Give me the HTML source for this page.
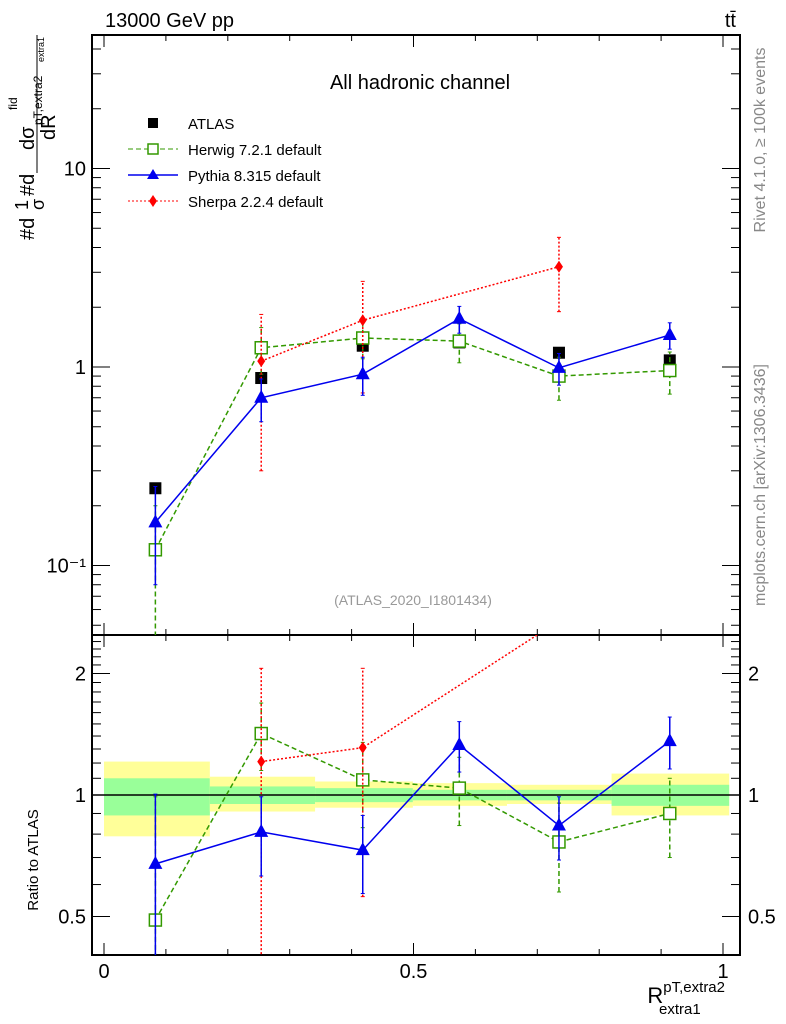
<!DOCTYPE html>
<html><head><meta charset="utf-8"><style>
body{margin:0;background:#fff;overflow:hidden;}
svg{display:block;font-family:"Liberation Sans",sans-serif;}
</style></head><body>
<svg id="c" width="786" height="1024" viewBox="0 0 786 1024">
<text x="105" y="27" font-size="20">13000 GeV pp</text>
<text x="736" y="27" font-size="20" text-anchor="end">tt̄</text>
<text x="420" y="89" font-size="20" text-anchor="middle">All hadronic channel</text>
<text transform="translate(765,140) rotate(-90)" font-size="16" fill="#888" text-anchor="middle">Rivet 4.1.0, ≥ 100k events</text>
<text transform="translate(765,485) rotate(-90)" font-size="16" fill="#888" text-anchor="middle">mcplots.cern.ch [arXiv:1306.3436]</text>
<text x="413" y="605" font-size="14" fill="#999" text-anchor="middle">(ATLAS_2020_I1801434)</text>
<g font-size="20">
<text transform="translate(34,240) rotate(-90)">#d</text>
<text transform="translate(28,210) rotate(-90)" font-size="18">1</text>
<text transform="translate(44,210) rotate(-90)" font-size="18">σ</text>
<text transform="translate(34,196) rotate(-90)">#d</text>
<line x1="37" y1="173" x2="37" y2="35" stroke="#000" stroke-width="1"/>
<text transform="translate(34,150) rotate(-90)">dσ</text>
<text transform="translate(17,110) rotate(-90)" font-size="12">fid</text>
<text transform="translate(42,125) rotate(-90)" font-size="12">pT,extra2</text>
<text transform="translate(55,140) rotate(-90)">dR</text>
<text transform="translate(44,62) rotate(-90)" font-size="9">extra1</text>
</g>
<text transform="translate(38,860) rotate(-90)" font-size="15" text-anchor="middle">Ratio to ATLAS</text>
<text x="725" y="1003" font-size="22" text-anchor="end">R<tspan font-size="15" dy="-11">pT,extra2</tspan><tspan font-size="15" dx="-66" dy="22">extra1</tspan></text>
<g id="g"></g>
<g font-size="15">
<rect x="148" y="118" width="10" height="10" fill="#000"/>
<text x="188" y="129">ATLAS</text>
<line x1="128" y1="149" x2="178" y2="149" stroke="#339900" stroke-dasharray="5,3"/>
<rect x="148" y="144" width="10" height="10" fill="#fff" stroke="#339900" stroke-width="1.5"/>
<text x="188" y="155">Herwig 7.2.1 default</text>
<line x1="128" y1="175" x2="178" y2="175" stroke="#0000ee" stroke-width="1.5"/>
<polygon points="153,169 159,179 147,179" fill="#0000ee"/>
<text x="188" y="181">Pythia 8.315 default</text>
<line x1="128" y1="201" x2="178" y2="201" stroke="#ff0000" stroke-dasharray="2,2"/>
<polygon points="153,195 157,201 153,207 149,201" fill="#ff0000"/>
<text x="188" y="207">Sherpa 2.2.4 default</text>
</g>
</svg>
<script>
const xs=[0.083,0.254,0.418,0.574,0.735,0.914];
const binEdges=[0,0.171,0.341,0.499,0.651,0.820,1.01];
const atlas=[0.245,0.88,1.28,1.33,1.18,1.08];
const herwig=[0.12,1.25,1.40,1.35,0.90,0.96];
const herwigErr=[0.08,0.33,0.3,0.3,0.22,0.23];
const pythia=[0.165,0.70,0.92,1.75,0.99,1.45];
const pythiaErr=[0.085,0.17,0.2,0.27,0.18,0.22];
const sherpaX=[0.254,0.418,0.735];
const sherpa=[1.07,1.72,3.2];
const sherpaErr=[0.77,0.98,1.3];
const rHerwig=[0.49,1.42,1.09,1.04,0.765,0.9];
const rHerwigErr=[0.5,0.27,0.26,0.2,0.19,0.2];
const rPythia=[0.675,0.81,0.73,1.33,0.84,1.36];
const rPythiaErr=[0.33,0.18,0.16,0.19,0.15,0.2];
const rSherpa=[1.21,1.31,2.7];
const rSherpaErr=[0.85,0.75,0.1];
const greenLo=[0.89,0.95,0.96,0.97,0.97,0.94];
const greenHi=[1.10,1.05,1.04,1.03,1.03,1.06];
const yellowLo=[0.79,0.91,0.93,0.94,0.95,0.89];
const yellowHi=[1.21,1.11,1.08,1.07,1.06,1.13];
const mainTicks=[0.1,1,10];const mainTickLabels=["10⁻¹","1","10"];
const ratioTicks=[0.5,1,2];const ratioTickLabels=["0.5","1","2"];
const xTicks=[0,0.5,1];const xTickLabels=["0","0.5","1"];

const L=92,R=740,T=35,M=635,B=955;
const X=v=>104+619*v;
const Y=v=>367-198.5*Math.log10(v);
const YR=v=>795-121.5*Math.log2(v);
const NS="http://www.w3.org/2000/svg";
const g=document.getElementById('g');
function el(t,a,p){const e=document.createElementNS(NS,t);for(const k in a)e.setAttribute(k,a[k]);(p||g).appendChild(e);return e;}
const clip=el('clipPath',{id:'cm'});el('rect',{x:L,y:T,width:R-L,height:M-T},clip);
const clip2=el('clipPath',{id:'cr'});el('rect',{x:L,y:M,width:R-L,height:B-M},clip2);
for(let i=0;i<6;i++){
 let b=el('rect',{x:X(binEdges[i]),y:YR(yellowHi[i]),width:X(binEdges[i+1])-X(binEdges[i]),height:YR(yellowLo[i])-YR(yellowHi[i]),fill:'#ffff99'});
 
 
 let c=el('rect',{x:X(binEdges[i]),y:YR(greenHi[i]),width:X(binEdges[i+1])-X(binEdges[i]),height:YR(greenLo[i])-YR(greenHi[i]),fill:'#99ff99'});
 
 
}
el('line',{x1:L,y1:YR(1),x2:R,y2:YR(1),stroke:'#000','stroke-width':1.5});
el('rect',{x:L,y:T,width:R-L,height:M-T,fill:'none',stroke:'#000','stroke-width':2});
el('rect',{x:L,y:M,width:R-L,height:B-M,fill:'none',stroke:'#000','stroke-width':2});
for(let d=-2;d<=1;d++)for(let m=1;m<10;m++){const v=m*Math.pow(10,d);const y=Y(v);if(y<T||y>M)continue;const len=m==1?18:9;
 el('line',{x1:L,y1:y,x2:L+len,y2:y,stroke:'#000'});el('line',{x1:R,y1:y,x2:R-len,y2:y,stroke:'#000'});}
mainTicks.forEach((v,i)=>{const t=el('text',{x:L-6,y:Y(v)+7,'font-size':20,'text-anchor':'end'});t.textContent=mainTickLabels[i];
 
 });
[0.4,0.5,0.6,0.7,0.8,0.9,1,1.1,1.2,1.3,1.4,1.5,1.6,1.7,1.8,1.9,2,2.1,2.2,2.3,2.4].forEach(v=>{const y=YR(v);if(y<M||y>B)return;const len=(v==0.5||v==1||v==2)?18:9;
 el('line',{x1:L,y1:y,x2:L+len,y2:y,stroke:'#000'});el('line',{x1:R,y1:y,x2:R-len,y2:y,stroke:'#000'});});
ratioTicks.forEach((v,i)=>{[[L-6,'end'],[R+8,'start']].forEach(([x,a])=>{const t=el('text',{x:x,y:YR(v)+7,'font-size':20,'text-anchor':a});t.textContent=ratioTickLabels[i];
 
 });});
for(let k=0;k<=10;k++){const v=k/10,x=X(v),len=k%5==0?12:6;
 [[M,-1],[M,1],[B,-1],[T,1]].forEach(([y,s])=>el('line',{x1:x,y1:y,x2:x,y2:y+s*len,stroke:'#000'}));}
xTicks.forEach((v,i)=>{const t=el('text',{x:X(v),y:978,'font-size':20,'text-anchor':'middle'});t.textContent=xTickLabels[i];
 
 });
function series(xv,yv,err,fy,clipId,color,dash,marker,name){
 const gg=el('g',{'clip-path':'url(#'+clipId+')'});
 
 
 const pts=xv.map((x,i)=>X(x)+','+fy(yv[i])).join(' ');
 el('polyline',{points:pts,fill:'none',stroke:color,'stroke-width':1.5,'stroke-dasharray':dash},gg);
 xv.forEach((x,i)=>{const cx=X(x),lo=Math.max(yv[i]-err[i],1e-3),hi=yv[i]+err[i];
  el('line',{x1:cx,y1:fy(lo),x2:cx,y2:fy(hi),stroke:color,'stroke-width':1.5,'stroke-dasharray':dash},gg);
  [lo,hi].forEach(v=>el('line',{x1:cx-2,y1:fy(v),x2:cx+2,y2:fy(v),stroke:color},gg));
  const cy=fy(yv[i]);let m;
  if(marker=='sq')m=el('rect',{x:cx-6,y:cy-6,width:12,height:12,fill:'#fff',stroke:color,'stroke-width':1.5},gg);
  else if(marker=='tri')m=el('polygon',{points:`${cx},${cy-8} ${cx+7},${cy+5} ${cx-7},${cy+5}`,fill:color},gg);
  else m=el('polygon',{points:`${cx},${cy-6} ${cx+4},${cy} ${cx},${cy+6} ${cx-4},${cy}`,fill:color},gg);
  
  
 });
}
atlas.forEach((v,i)=>{const r=el('rect',{x:X(xs[i])-6,y:Y(v)-6,width:12,height:12,fill:'#000'});
 
 });
series(xs,herwig,herwigErr,Y,'cm','#339900','5,3','sq','herwig-series');
series(sherpaX,sherpa,sherpaErr,Y,'cm','#ff0000','2,2','dia','sherpa-series');
series(xs,pythia,pythiaErr,Y,'cm','#0000ee','','tri','pythia-series');
series(xs,rHerwig,rHerwigErr,YR,'cr','#339900','5,3','sq','herwig-ratio');
series(sherpaX,rSherpa,rSherpaErr,YR,'cr','#ff0000','2,2','dia','sherpa-ratio');
series(xs,rPythia,rPythiaErr,YR,'cr','#0000ee','','tri','pythia-ratio');
</script>
</body></html>
